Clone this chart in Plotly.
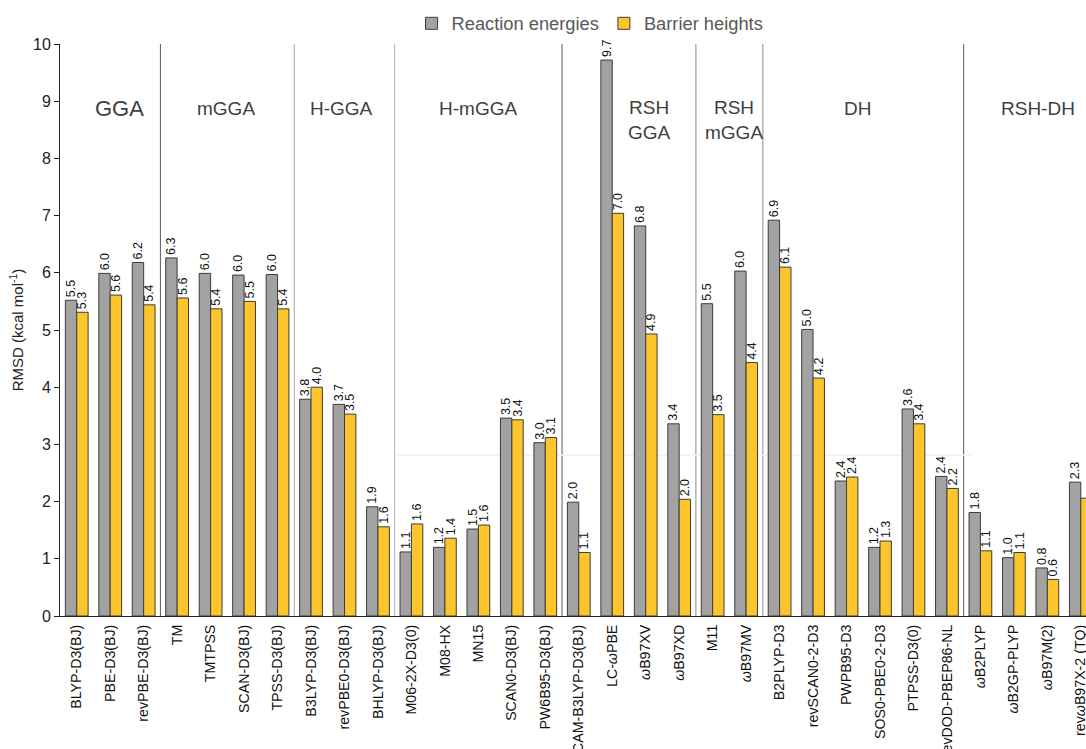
import plotly.graph_objects as go

# Functionals (x categories) and their RMSD values in kcal/mol
methods = [
    "BLYP-D3(BJ)", "PBE-D3(BJ)", "revPBE-D3(BJ)",
    "TM", "TMTPSS", "SCAN-D3(BJ)", "TPSS-D3(BJ)",
    "B3LYP-D3(BJ)", "revPBE0-D3(BJ)", "BHLYP-D3(BJ)",
    "M06-2X-D3(0)", "M08-HX", "MN15", "SCAN0-D3(BJ)", "PW6B95-D3(BJ)",
    "CAM-B3LYP-D3(BJ)", "LC-ωPBE", "ωB97XV", "ωB97XD",
    "M11", "ωB97MV",
    "B2PLYP-D3", "revSCAN0-2-D3", "PWPB95-D3", "SOS0-PBE0-2-D3", "PTPSS-D3(0)", "revDOD-PBEP86-NL",
    "ωB2PLYP", "ωB2GP-PLYP", "ωB97M(2)", "revωB97X-2 (TQ)",
]

reaction_energies = [
    5.52, 5.99, 6.18,
    6.26, 5.99, 5.96, 5.97,
    3.79, 3.70, 1.91,
    1.12, 1.20, 1.52, 3.46, 3.03,
    1.99, 9.72, 6.82, 3.36,
    5.46, 6.03,
    6.92, 5.01, 2.36, 1.20, 3.62, 2.44,
    1.81, 1.02, 0.84, 2.34,
]

barrier_heights = [
    5.31, 5.61, 5.44,
    5.56, 5.37, 5.50, 5.37,
    4.00, 3.53, 1.56,
    1.61, 1.36, 1.59, 3.43, 3.12,
    1.11, 7.04, 4.93, 2.04,
    3.52, 4.43,
    6.10, 4.16, 2.43, 1.31, 3.36, 2.23,
    1.14, 1.11, 0.64, 2.06,
]

# Functional families and how many methods each one holds
group_names = ["GGA", "mGGA", "H-GGA", "H-mGGA", "RSH<br>GGA", "RSH<br>mGGA", "DH", "RSH-DH"]
group_sizes = [3, 4, 3, 5, 4, 2, 6, 4]

y_ticks = [0, 1, 2, 3, 4, 5, 6, 7, 8, 9, 10]


def tick_html(name):
    """Render the Greek omega in italics."""
    return name.replace("ω", "<i>ω</i>")


FONT = "Liberation Sans, Arial, sans-serif"
GRAY = "#a2a2a2"
YELLOW = "#fdc52c"
EDGE = "#3c3c3c"

fig = go.Figure()

for name, values, color in [("Reaction energies", reaction_energies, GRAY),
                            ("Barrier heights", barrier_heights, YELLOW)]:
    fig.add_trace(go.Bar(
        name=name,
        x=methods, y=values,
        marker=dict(color=color, line=dict(color=EDGE, width=1)),
        texttemplate="%{y:.1f}", textposition="outside", textangle=-90,
        constraintext="none", cliponaxis=False,
        textfont=dict(family=FONT, size=12.5, color="#111"),
    ))

# Vertical separators between functional families
shapes = []
sep_colors = ["#5a5a5a", "#a8a8a8", "#b0b0b0", "#5a5a5a", "#8a8a8a", "#8a8a8a", "#5a5a5a"]
edge = -0.5
bounds = []
for size in group_sizes[:-1]:
    edge += size
    bounds.append(edge)
for b, c in zip(bounds, sep_colors):
    shapes.append(dict(type="line", xref="x", yref="y", x0=b, x1=b, y0=0, y1=10,
                       line=dict(color=c, width=1), layer="below"))

# faint horizontal rule across the middle families
shapes.append(dict(type="line", xref="x", yref="y", x0=9.5, x1=26.72, y0=2.81, y1=2.81,
                   line=dict(color="#f1f1f1", width=1.5), layer="below"))

# Family labels
label_x = [1.28, 4.47, 7.9, 12.0, 17.12, 19.64, 23.33, 28.72]
label_y = [8.88, 8.88, 8.88, 8.88, 8.68, 8.68, 8.88, 8.88]
label_size = [22, 19, 19, 19, 19, 19, 19, 19]
annotations = []
for name, lx, ly, fs in zip(group_names, label_x, label_y, label_size):
    annotations.append(dict(
        x=lx, y=ly, xref="x", yref="y", text=name, showarrow=False,
        xanchor="center", yanchor="middle",
        font=dict(family=FONT, size=fs, color="#404040"),
    ))

fig.update_layout(
    width=1086, height=749,
    margin=dict(l=60, r=0, t=44, b=133, autoexpand=False),
    paper_bgcolor="white", plot_bgcolor="white",
    barmode="group", bargap=0.32, bargroupgap=0,
    font=dict(family=FONT, color="#222"),
    showlegend=True,
    legend=dict(orientation="h", x=0.5166, xanchor="center", y=1.036, yanchor="middle",
                font=dict(size=18.3, color="#595959"), itemwidth=30,
                bgcolor="rgba(0,0,0,0)"),
    shapes=shapes,
    annotations=annotations,
)

fig.update_xaxes(
    type="category",
    categoryorder="array", categoryarray=methods,
    tickmode="array", tickvals=methods, ticktext=[tick_html(m) for m in methods],
    tickangle=-90,
    tickfont=dict(size=14.2, color="#111"),
    range=[-0.5, 30.155],
    showline=True, linecolor="#222", linewidth=1,
    ticks="", showgrid=False, zeroline=False,
    automargin=False, ticklabelstandoff=2,
)

fig.update_yaxes(
    range=[0, 10],
    tickmode="array", tickvals=y_ticks,
    tickfont=dict(size=16, color="#222"),
    showline=True, linecolor="#222", linewidth=1,
    ticks="outside", ticklen=5, tickcolor="#222",
    showgrid=False, zeroline=False,
    automargin=False,
    title=dict(text="RMSD (kcal mol<sup>-1</sup>)", font=dict(size=15, color="#222"), standoff=5),
)

fig.write_html("out.html")
